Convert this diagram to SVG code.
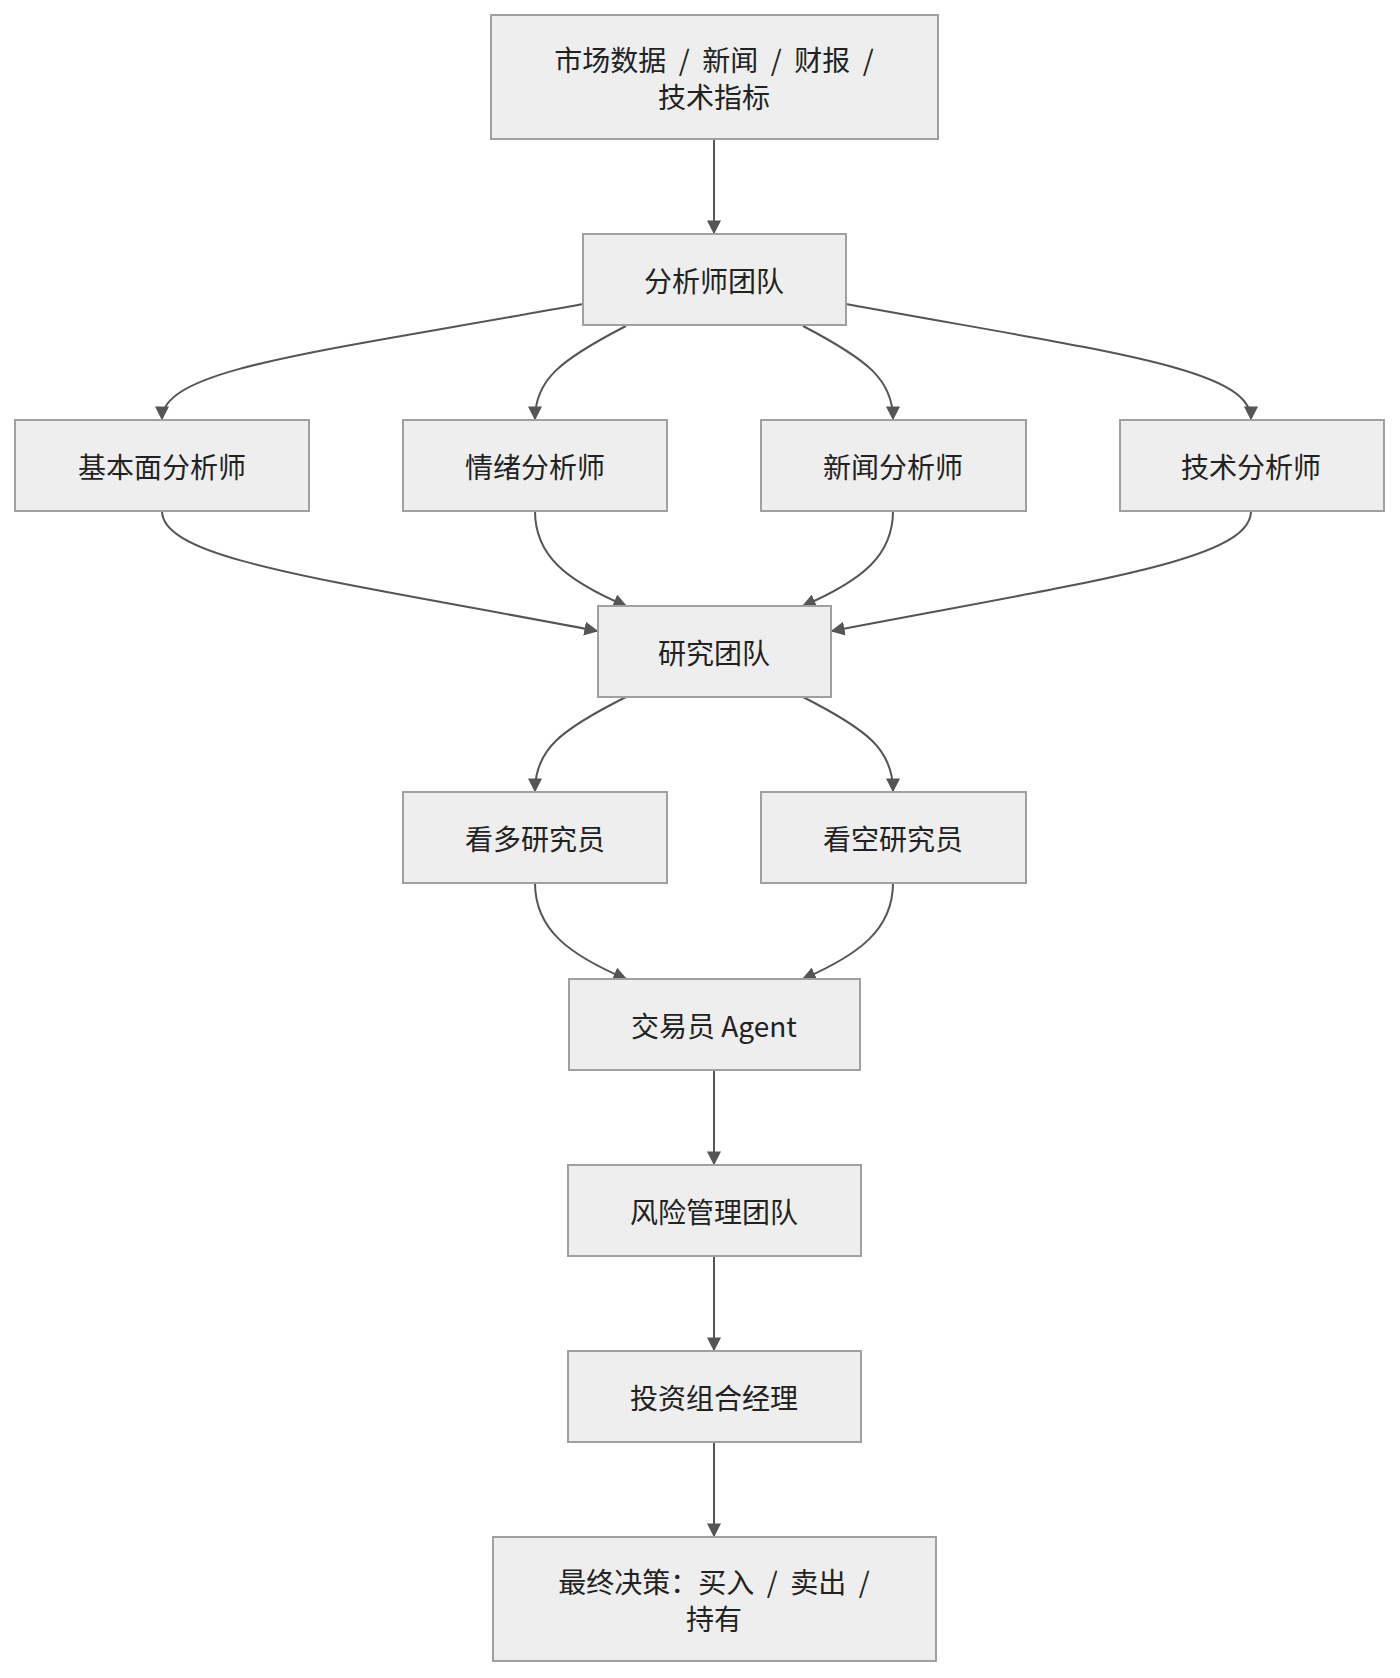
<svg xmlns="http://www.w3.org/2000/svg" width="1400" height="1678" viewBox="0 0 1400 1678">
<defs>
<marker id="arr" viewBox="0 0 10 10" refX="9" refY="5" markerWidth="14" markerHeight="14" orient="auto-start-reverse" markerUnits="userSpaceOnUse"><path d="M0,0 L10,5 L0,10 z" fill="#555"/></marker>
<style>
.n rect{fill:#eeeeee;stroke:#a0a0a0;stroke-width:2}
.n text{font-family:"Noto Sans CJK SC","Noto Sans",sans-serif;font-size:28px;fill:#222;text-anchor:middle;dominant-baseline:central}
.e path{fill:none;stroke:#555;stroke-width:2;marker-end:url(#arr)}
</style>
</defs>
<rect width="1400" height="1678" fill="#fff"/>
<g class="e" id="edges">
<path d="M714,139 L714,233"/>
<path d="M583,304 C320,352 162,368 162,419"/>
<path d="M626,326 C560,360 535,380 535,419"/>
<path d="M803,326 C868,360 893,380 893,419"/>
<path d="M846,304 C1108,352 1251,368 1251,419"/>
<path d="M162,511 C162,560 330,580 597,631"/>
<path d="M535,511 C535,555 565,580 626,606"/>
<path d="M893,511 C893,555 863,580 803,606"/>
<path d="M1251,511 C1251,560 1098,580 832,631"/>
<path d="M626,697 C560,730 535,750 535,791"/>
<path d="M803,697 C868,730 893,750 893,791"/>
<path d="M535,883 C535,930 570,955 626,979"/>
<path d="M893,883 C893,930 858,955 803,979"/>
<path d="M714,1070 L714,1164"/>
<path d="M714,1256 L714,1350"/>
<path d="M714,1442 L714,1536"/>
</g>
<g class="n" id="n1"><rect x="491" y="15" width="447" height="124"/><text x="714" y="59">市场数据 &#160;/ &#160;新闻 &#160;/ &#160;财报 &#160;/</text><text x="714" y="96">技术指标</text></g>
<g class="n" id="n2"><rect x="583" y="234" width="263" height="91"/><text x="714" y="280">分析师团队</text></g>
<g class="n" id="n3"><rect x="15" y="420" width="294" height="91"/><text x="162" y="466">基本面分析师</text></g>
<g class="n" id="n4"><rect x="403" y="420" width="264" height="91"/><text x="535" y="466">情绪分析师</text></g>
<g class="n" id="n5"><rect x="761" y="420" width="265" height="91"/><text x="893" y="466">新闻分析师</text></g>
<g class="n" id="n6"><rect x="1120" y="420" width="264" height="91"/><text x="1251" y="466">技术分析师</text></g>
<g class="n" id="n7"><rect x="598" y="606" width="233" height="91"/><text x="714" y="652">研究团队</text></g>
<g class="n" id="n8"><rect x="403" y="792" width="264" height="91"/><text x="535" y="838">看多研究员</text></g>
<g class="n" id="n9"><rect x="761" y="792" width="265" height="91"/><text x="893" y="838">看空研究员</text></g>
<g class="n" id="n10"><rect x="569" y="979" width="291" height="91"/><text x="714" y="1025">交易员 Agent</text></g>
<g class="n" id="n11"><rect x="568" y="1165" width="293" height="91"/><text x="714" y="1211">风险管理团队</text></g>
<g class="n" id="n12"><rect x="568" y="1351" width="293" height="91"/><text x="714" y="1397">投资组合经理</text></g>
<g class="n" id="n13"><rect x="493" y="1537" width="443" height="124"/><text x="714" y="1581">最终决策：买入 &#160;/ &#160;卖出 &#160;/</text><text x="714" y="1618">持有</text></g>
</svg>
